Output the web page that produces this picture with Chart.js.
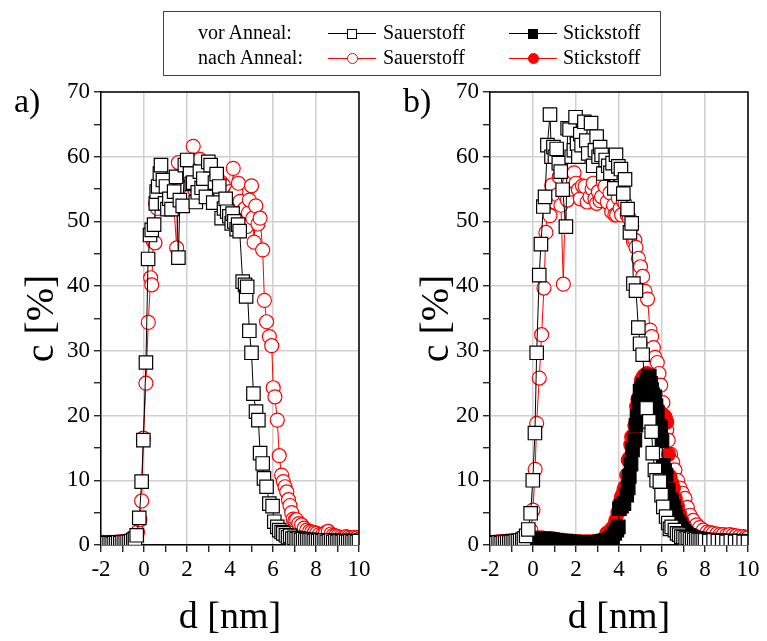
<!DOCTYPE html>
<html>
<head>
<meta charset="utf-8">
<script src="https://cdn.jsdelivr.net/npm/chart.js@4.4.1/dist/chart.umd.min.js"></script>
<style>
  body { margin: 0; background: #fff; font-family: 'Liberation Serif', 'Times New Roman', serif; }
  #wrap { position: relative; width: 767px; height: 641px; overflow: hidden; background: #fff; }
  canvas { position: absolute; top: 0; }
  #chartA { left: 0; }
  #chartB { left: 383px; }
  .panel-label { position: absolute; font-size: 34px; line-height: 34px; color: #000; }
  #legend { position: absolute; left: 163px; top: 11px; width: 498px; height: 65px;
            border: 1.5px solid #444; box-sizing: border-box; }
  .lg-text { position: absolute; font-size: 20px; line-height: 20px; color: #000; white-space: nowrap; }
  .lg-line { position: absolute; height: 0; width: 48px; border-top: 1px solid; }
  .lg-mark { position: absolute; box-sizing: border-box; }
</style>
</head>
<body>
<div id="wrap">
  <canvas id="chartA" width="383" height="641"></canvas>
  <canvas id="chartB" width="384" height="641"></canvas>
  <div class="panel-label" style="left:14px; top:84px;">a)</div>
  <div class="panel-label" style="left:403px; top:84px;">b)</div>
  <div id="legend"></div>
</div>
<script>
// Tick labels
const X_LABELS = ['-2', '0', '2', '4', '6', '8', '10'];
const Y_LABELS = ['0', '10', '20', '30', '40', '50', '60', '70'];

// Legend rows / entries
const LEGEND_ROWS = ['vor Anneal:', 'nach Anneal:'];
const LEGEND_NAMES = ['Sauerstoff', 'Stickstoff'];

// Panel a) - Sauerstoff vor Anneal  [d nm, c %]
const aSauerVor = [
  [-2.0,0.2],[-1.9,0.3],[-1.8,0.2],[-1.7,0.3],[-1.6,0.3],[-1.5,0.2],[-1.4,0.3],[-1.3,0.3],[-1.2,0.4],[-1.1,0.3],
  [-1.0,0.4],[-0.9,0.4],[-0.8,0.5],[-0.7,0.5],[-0.6,0.6],[-0.5,0.8],[-0.42,1.0],[-0.34,1.5],[-0.22,4.2],[-0.11,9.8],
  [-0.03,16.2],[0.09,28.2],[0.19,44.2],[0.28,47.9],[0.36,48.7],[0.47,49.5],[0.55,52.8],[0.59,54.6],[0.66,55.4],[0.74,57.4],
  [0.79,58.7],[0.88,56.4],[0.98,52.8],[1.02,55.4],[1.09,51.9],[1.18,53.5],[1.28,51.9],[1.4,54.6],[1.49,56.9],[1.6,44.4],
  [1.67,53.3],[1.8,52.4],[1.9,58.7],[2.01,59.5],[2.14,57.4],[2.22,55.8],[2.29,56.0],[2.41,53.0],[2.5,54.5],[2.6,57.7],
  [2.68,55.2],[2.76,56.6],[2.88,53.8],[2.99,59.2],[3.1,58.7],[3.22,52.9],[3.3,56.0],[3.38,57.3],[3.5,55.4],[3.61,50.5],
  [3.72,52.0],[3.8,53.5],[3.87,51.5],[3.97,50.8],[4.08,49.7],[4.12,51.2],[4.2,50.0],[4.31,48.8],[4.38,49.5],[4.45,48.5],
  [4.59,40.7],[4.7,40.2],[4.75,38.4],[4.8,39.9],[4.9,33.1],[5.0,29.7],[5.09,23.4],[5.21,20.6],[5.32,19.3],[5.4,14.2],
  [5.52,12.6],[5.58,10.3],[5.7,9.0],[5.83,6.4],[5.98,6.0],[6.06,3.6],[6.2,2.8],[6.29,2.3],[6.4,2.0],[6.48,1.8],
  [6.6,1.5],[6.7,1.2],[6.8,1.4],[6.9,1.0],[7.0,1.1],[7.1,0.9],[7.2,1.0],[7.3,0.8],[7.4,0.9],[7.5,0.7],
  [7.6,0.8],[7.7,0.7],[7.8,0.8],[7.9,0.6],[8.0,0.7],[8.1,0.6],[8.2,0.7],[8.3,0.6],[8.4,0.7],[8.5,0.5],
  [8.6,0.6],[8.7,0.7],[8.8,0.5],[8.9,0.6],[9.0,0.5],[9.1,0.6],[9.2,0.5],[9.3,0.6],[9.4,0.5],[9.5,0.5],
  [9.6,0.6],[9.7,0.5],[9.8,0.6],[9.9,0.5],[10.0,0.6]
];

// Panel a) - Sauerstoff nach Anneal
const aSauerNach = [
  [-2.0,0.3],[-1.9,0.4],[-1.8,0.3],[-1.7,0.4],[-1.6,0.4],[-1.5,0.3],[-1.4,0.4],[-1.3,0.4],[-1.2,0.5],[-1.1,0.4],
  [-1.0,0.5],[-0.9,0.5],[-0.8,0.6],[-0.7,0.6],[-0.6,0.7],[-0.5,0.8],[-0.4,1.2],[-0.3,2.0],[-0.19,3.9],[-0.11,6.8],
  [-0.03,16.5],[0.09,25.0],[0.2,34.4],[0.31,41.3],[0.36,40.2],[0.43,46.9],[0.51,46.7],[0.53,52.8],[0.62,52.0],[0.72,54.5],
  [0.85,53.0],[0.95,55.5],[1.08,54.0],[1.2,55.8],[1.35,54.5],[1.52,45.9],[1.6,59.1],[1.72,55.5],[1.85,56.8],[1.98,55.1],
  [2.1,57.2],[2.2,54.2],[2.29,61.6],[2.36,54.9],[2.48,58.0],[2.6,59.6],[2.7,55.0],[2.8,56.5],[2.9,54.3],[2.99,56.9],
  [3.1,54.0],[3.2,55.4],[3.3,53.5],[3.38,57.2],[3.5,54.0],[3.6,56.0],[3.69,55.6],[3.8,53.2],[3.9,53.8],[3.97,53.3],
  [3.99,54.6],[4.08,52.2],[4.15,58.2],[4.23,54.3],[4.28,54.6],[4.39,55.9],[4.47,53.1],[4.55,51.5],[4.62,50.5],[4.7,52.0],
  [4.77,49.2],[4.85,51.3],[4.9,53.3],[5.0,55.5],[5.06,50.5],[5.12,46.8],[5.2,52.4],[5.3,49.6],[5.4,50.5],[5.52,45.6],
  [5.6,37.8],[5.7,34.5],[5.83,32.2],[5.94,30.8],[6.01,24.3],[6.09,22.9],[6.2,19.3],[6.29,13.8],[6.4,10.8],[6.48,9.8],
  [6.56,9.0],[6.64,8.2],[6.72,7.0],[6.79,6.1],[6.87,5.0],[6.94,4.0],[7.02,3.8],[7.1,3.9],[7.2,3.3],[7.33,3.1],
  [7.45,2.6],[7.57,2.3],[7.7,2.1],[7.8,2.0],[7.92,1.9],[8.03,1.8],[8.15,1.6],[8.3,1.6],[8.45,1.9],[8.57,2.1],
  [8.7,1.7],[8.8,1.5],[8.9,1.4],[9.0,1.3],[9.15,1.2],[9.27,1.1],[9.4,1.3],[9.5,1.2],[9.6,1.1],[9.7,1.0],
  [9.8,1.2],[9.9,1.1],[10.0,0.9]
];

// Panel b) - Sauerstoff vor Anneal
const bSauerVor = [
  [-2.0,0.3],[-1.9,0.3],[-1.8,0.4],[-1.7,0.3],[-1.6,0.4],[-1.5,0.3],[-1.4,0.4],[-1.3,0.4],[-1.2,0.5],[-1.1,0.4],
  [-1.0,0.5],[-0.9,0.5],[-0.8,0.6],[-0.7,0.6],[-0.6,0.7],[-0.5,0.8],[-0.42,1.0],[-0.32,1.4],[-0.22,2.4],[-0.11,4.9],
  [-0.01,10.0],[0.09,17.3],[0.17,29.7],[0.29,41.7],[0.37,46.5],[0.48,52.3],[0.56,53.8],[0.67,61.8],[0.79,66.5],[0.86,60.0],
  [0.95,61.5],[1.02,60.0],[1.1,61.2],[1.2,59.0],[1.29,57.7],[1.38,54.9],[1.53,49.2],[1.61,64.4],[1.7,64.2],[1.8,60.0],
  [1.9,61.0],[1.98,66.1],[2.05,62.0],[2.11,60.0],[2.2,63.5],[2.26,61.8],[2.39,65.4],[2.48,62.5],[2.57,60.5],[2.7,65.2],
  [2.8,58.6],[2.88,61.0],[2.96,63.1],[3.05,60.0],[3.12,61.5],[3.19,60.3],[3.27,57.4],[3.38,59.5],[3.5,58.6],[3.6,57.5],
  [3.7,59.0],[3.78,55.1],[3.86,60.3],[3.97,58.5],[4.09,58.1],[4.2,54.3],[4.28,56.5],[4.4,51.9],[4.51,48.3],[4.59,49.7],
  [4.67,40.4],[4.79,39.3],[4.9,33.6],[4.98,31.1],[5.1,29.4],[5.29,21.1],[5.41,19.1],[5.52,17.5],[5.57,14.2],[5.67,11.6],
  [5.75,10.0],[5.9,9.8],[5.98,7.7],[6.06,5.9],[6.19,4.4],[6.29,3.4],[6.37,2.5],[6.45,2.8],[6.6,2.3],[6.7,1.8],
  [6.8,1.6],[6.9,1.3],[7.0,1.2],[7.1,1.0],[7.2,1.1],[7.3,0.9],[7.4,1.0],[7.5,0.8],[7.6,0.9],[7.7,0.8],
  [7.8,0.7],[7.9,0.8],[8.0,0.7],[8.2,0.6],[8.4,0.7],[8.6,0.6],[8.8,0.6],[9.0,0.5],[9.2,0.6],[9.4,0.5],
  [9.6,0.6],[9.8,0.5],[10.0,0.5]
];

// Panel b) - Sauerstoff nach Anneal
const bSauerNach = [
  [-2.0,0.4],[-1.8,0.4],[-1.6,0.5],[-1.4,0.5],[-1.2,0.6],[-1.0,0.6],[-0.8,0.7],[-0.6,0.8],[-0.45,1.0],[-0.3,1.5],
  [-0.1,2.3],[0.0,5.4],[0.1,11.7],[0.17,18.8],[0.29,25.8],[0.4,32.5],[0.51,39.7],[0.6,48.3],[0.67,52.3],[0.79,50.9],
  [0.87,55.6],[1.0,53.0],[1.13,54.1],[1.22,56.9],[1.3,52.5],[1.41,40.3],[1.5,54.0],[1.6,53.3],[1.7,56.0],[1.8,55.0],
  [1.91,57.5],[2.0,55.9],[2.11,54.9],[2.2,53.5],[2.3,55.5],[2.42,55.4],[2.52,53.0],[2.65,53.8],[2.75,55.0],[2.8,55.9],
  [2.88,53.5],[2.96,52.8],[3.04,54.6],[3.12,53.2],[3.19,53.8],[3.27,56.0],[3.35,55.4],[3.45,53.0],[3.58,54.4],[3.66,51.5],
  [3.75,52.5],[3.81,51.0],[3.89,51.0],[3.97,53.6],[4.05,52.0],[4.12,51.0],[4.2,53.1],[4.28,52.8],[4.38,51.0],[4.48,50.5],
  [4.59,49.2],[4.67,46.9],[4.74,47.1],[4.79,46.0],[4.9,44.3],[5.0,43.0],[5.1,41.5],[5.21,39.2],[5.33,38.0],[5.44,33.2],
  [5.52,32.2],[5.6,30.5],[5.67,29.0],[5.78,28.2],[5.86,26.5],[5.94,24.7],[6.04,22.0],[6.14,19.8],[6.22,17.8],[6.29,16.2],
  [6.4,14.0],[6.5,12.8],[6.6,11.6],[6.72,10.0],[6.84,8.8],[6.95,8.0],[7.07,7.2],[7.18,5.8],[7.3,4.6],[7.45,3.8],
  [7.61,3.1],[7.75,2.7],[7.92,2.3],[8.1,2.0],[8.25,1.9],[8.38,1.8],[8.55,1.7],[8.7,1.6],[8.85,1.6],[9.0,1.5],
  [9.15,1.6],[9.3,1.5],[9.45,1.4],[9.6,1.3],[9.77,1.3],[9.9,1.2],[10.0,1.1]
];

// Panel b) - Stickstoff vor Anneal
const bStickVor = [
  [-2.0,0.3],[-1.9,0.3],[-1.8,0.4],[-1.7,0.3],[-1.6,0.3],[-1.5,0.4],[-1.4,0.3],[-1.3,0.4],[-1.2,0.4],[-1.1,0.3],
  [-1.0,0.4],[-0.9,0.4],[-0.8,0.4],[-0.7,0.5],[-0.6,0.5],[-0.5,0.5],[-0.4,0.6],[-0.3,0.6],[-0.2,0.7],[-0.1,0.7],
  [0.0,0.8],[0.1,0.8],[0.2,0.9],[0.3,0.9],[0.4,0.9],[0.5,0.9],[0.6,0.8],[0.7,0.9],[0.8,0.8],[0.9,0.8],
  [1.0,0.7],[1.1,0.7],[1.2,0.6],[1.3,0.6],[1.4,0.6],[1.5,0.5],[1.6,0.5],[1.7,0.5],[1.8,0.4],[1.9,0.5],
  [2.0,0.4],[2.1,0.4],[2.2,0.4],[2.3,0.4],[2.4,0.3],[2.5,0.4],[2.6,0.4],[2.7,0.3],[2.8,0.4],[2.9,0.4],
  [3.0,0.4],[3.1,0.5],[3.2,0.5],[3.3,0.6],[3.4,0.7],[3.5,0.8],[3.6,1.0],[3.7,1.3],[3.8,1.8],[3.9,2.3],
  [3.97,2.8],[4.02,5.6],[4.12,6.0],[4.23,6.4],[4.36,7.7],[4.43,8.8],[4.48,10.6],[4.56,12.5],[4.63,14.7],[4.74,16.2],
  [4.79,18.5],[4.84,19.8],[4.92,22.0],[4.98,23.8],[5.05,24.2],[5.13,24.7],[5.21,24.5],[5.3,25.5],[5.36,25.9],[5.41,26.1],
  [5.47,25.0],[5.52,24.0],[5.57,23.2],[5.67,22.9],[5.72,21.5],[5.78,20.5],[5.88,18.3],[5.94,18.0],[6.0,16.1],[6.06,12.3],
  [6.12,11.5],[6.19,10.8],[6.29,8.5],[6.4,7.0],[6.45,6.7],[6.53,5.9],[6.6,5.0],[6.65,4.4],[6.75,3.6],[6.84,3.1],
  [6.92,2.5],[7.0,2.1],[7.1,1.8],[7.23,1.5],[7.35,1.3],[7.45,1.1],[7.55,1.0],[7.65,0.9],[7.75,0.9],[7.85,0.8],
  [7.95,0.8],[8.05,0.7],[8.15,0.7],[8.25,0.7],[8.35,0.6],[8.45,0.6],[8.55,0.6],[8.65,0.6],[8.75,0.5],[8.85,0.6],
  [8.95,0.5],[9.05,0.5],[9.15,0.5],[9.25,0.5],[9.35,0.5],[9.45,0.5],[9.55,0.4],[9.65,0.5],[9.75,0.4],[9.85,0.4],
  [9.95,0.4],[10.0,0.4]
];

// Panel b) - Stickstoff nach Anneal
const bStickNach = [
  [-2.0,0.4],[-1.8,0.4],[-1.6,0.5],[-1.4,0.5],[-1.2,0.5],[-1.0,0.6],[-0.8,0.6],[-0.6,0.7],[-0.4,0.8],[-0.2,0.9],
  [0.0,1.0],[0.2,1.1],[0.4,1.1],[0.6,1.0],[0.8,1.0],[1.0,0.9],[1.2,0.8],[1.4,0.7],[1.6,0.6],[1.8,0.6],
  [2.0,0.5],[2.2,0.5],[2.4,0.5],[2.6,0.5],[2.8,0.5],[3.0,0.6],[3.2,0.7],[3.35,0.9],[3.43,1.8],[3.55,2.0],
  [3.65,2.4],[3.74,2.8],[3.85,3.8],[3.95,5.0],[4.05,6.5],[4.12,7.5],[4.23,8.5],[4.28,9.0],[4.36,10.8],[4.43,13.1],
  [4.48,13.4],[4.55,15.5],[4.59,16.7],[4.67,16.9],[4.74,18.5],[4.82,21.4],[4.88,22.5],[4.94,22.9],[5.05,25.5],[5.13,26.0],
  [5.21,26.3],[5.3,26.5],[5.38,26.0],[5.45,24.8],[5.52,24.0],[5.6,23.5],[5.7,22.0],[5.8,21.0],[5.9,20.5],[6.0,20.2],
  [6.06,20.0],[6.15,19.5],[6.22,19.0],[6.3,14.0],[6.37,10.6],[6.45,9.6],[6.53,8.8],[6.62,7.2],[6.72,6.0],[6.82,4.8],
  [6.92,3.8],[7.02,3.0],[7.12,2.4],[7.25,1.9],[7.4,1.5],[7.55,1.3],[7.7,1.1],[7.85,1.0],[8.0,0.9],[8.2,0.8],
  [8.4,0.8],[8.6,0.7],[8.8,0.7],[9.0,0.6],[9.2,0.6],[9.4,0.6],[9.6,0.5],[9.8,0.5],[10.0,0.5]
];

const FONT = "'Liberation Serif', 'Times New Roman', serif";
const GRID = '#d0d0d0';
const RED = '#ff0000';

// Build a dataset: open (white filled) or filled marker with thin connecting line
function series(points, color, shape, filled, radius) {
  return {
    data: points.map(p => ({ x: p[0], y: p[1] })),
    showLine: true,
    borderColor: color,
    borderWidth: 1,
    tension: 0,
    pointStyle: shape,
    pointRadius: radius,
    pointBorderColor: color,
    pointBackgroundColor: filled ? color : '#ffffff',
    pointBorderWidth: 1.2
  };
}

// Top and right frame lines
const framePlugin = {
  id: 'frame',
  afterDraw(chart) {
    const { ctx, chartArea: a } = chart;
    ctx.save();
    ctx.strokeStyle = '#000';
    ctx.lineWidth = 1.5;
    ctx.beginPath();
    ctx.moveTo(a.left, a.top);
    ctx.lineTo(a.right, a.top);
    ctx.lineTo(a.right, a.bottom);
    ctx.stroke();
    ctx.restore();
  }
};

function makeOptions(yWidth, yTitlePad, rightPad) {
  return {
    responsive: false,
    animation: false,
    events: [],
    layout: { padding: { top: 92, right: rightPad, left: 0, bottom: 0 } },
    plugins: { legend: { display: false }, tooltip: { enabled: false } },
    scales: {
      x: {
        type: 'linear', min: -2, max: 10,
        afterFit: s => { s.height = 96; },
        ticks: {
          stepSize: 1, autoSkip: false, maxRotation: 0, padding: 4, color: '#000',
          font: { family: FONT, size: 23 },
          callback: v => X_LABELS.includes(String(v)) ? String(v) : ''
        },
        grid: {
          color: c => (c.tick && c.tick.value % 2 === 0) ? GRID : 'rgba(0,0,0,0)',
          lineWidth: 1.5, tickColor: '#000', tickLength: 7, tickWidth: 1.2
        },
        border: { color: '#000', width: 1.5 },
        title: { display: true, text: 'd [nm]', color: '#000', font: { family: FONT, size: 38 }, padding: { top: 0, bottom: 0 } }
      },
      y: {
        type: 'linear', min: 0, max: 70,
        afterFit: s => { s.width = yWidth; },
        ticks: {
          stepSize: 5, autoSkip: false, padding: 4, color: '#000',
          font: { family: FONT, size: 23 },
          callback: v => Y_LABELS.includes(String(v)) ? String(v) : ''
        },
        grid: {
          color: c => (c.tick && c.tick.value % 10 === 0) ? GRID : 'rgba(0,0,0,0)',
          lineWidth: 1.5, tickColor: '#000', tickLength: 7, tickWidth: 1.2
        },
        border: { color: '#000', width: 1.5 },
        title: { display: true, text: 'c [%]', color: '#000', font: { family: FONT, size: 40 }, padding: { top: yTitlePad, bottom: 0 } }
      }
    }
  };
}

new Chart(document.getElementById('chartA'), {
  type: 'scatter',
  data: {
    datasets: [
      series(aSauerVor, '#000', 'rect', false, 9.5),
      series(aSauerNach, RED, 'circle', false, 7)
    ]
  },
  options: makeOptions(101, 18, 24),
  plugins: [framePlugin]
});

new Chart(document.getElementById('chartB'), {
  type: 'scatter',
  data: {
    datasets: [
      series(bSauerVor, '#000', 'rect', false, 9.5),
      series(bStickVor, '#000', 'rect', true, 9.5),
      series(bStickNach, RED, 'circle', true, 7),
      series(bSauerNach, RED, 'circle', false, 7)
    ]
  },
  options: makeOptions(107, 30, 19),
  plugins: [framePlugin]
});

// Legend box (HTML)
const legend = document.getElementById('legend');
const rowTop = [21, 46];
const colors = ['#000', RED];
const sampleLeft = [164, 345];
const nameLeft = [219, 399];
LEGEND_ROWS.forEach((row, r) => {
  const t = document.createElement('div');
  t.className = 'lg-text';
  t.textContent = row;
  t.style.left = '34px';
  t.style.top = (rowTop[r] - 11) + 'px';
  legend.appendChild(t);
  LEGEND_NAMES.forEach((name, c) => {
    const line = document.createElement('div');
    line.className = 'lg-line';
    line.style.left = sampleLeft[c] + 'px';
    line.style.top = rowTop[r] + 'px';
    line.style.borderTopColor = colors[r];
    legend.appendChild(line);
    const mark = document.createElement('div');
    mark.className = 'lg-mark';
    const size = r === 0 ? 10 : 11;
    mark.style.width = size + 'px';
    mark.style.height = size + 'px';
    mark.style.left = (sampleLeft[c] + 24 - size / 2) + 'px';
    mark.style.top = (rowTop[r] - size / 2 + 0.5) + 'px';
    mark.style.border = '1.2px solid ' + colors[r];
    mark.style.background = c === 1 ? colors[r] : '#fff';
    if (r === 1) mark.style.borderRadius = '50%';
    legend.appendChild(mark);
    const n = document.createElement('div');
    n.className = 'lg-text';
    n.textContent = name;
    n.style.left = nameLeft[c] + 'px';
    n.style.top = (rowTop[r] - 11) + 'px';
    legend.appendChild(n);
  });
});
</script>
</body>
</html>
